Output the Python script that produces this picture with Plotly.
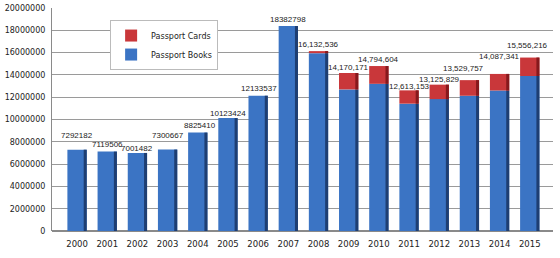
import plotly.graph_objects as go

years = [str(y) for y in range(2000, 2016)]
passport_books = [7292182, 7119506, 7001482, 7300667, 8825410, 10123424, 12133537, 18382798,
                  15950000, 12700000, 13200000, 11420000, 11830000, 12130000, 12600000, 13900000]
passport_cards = [0, 0, 0, 0, 0, 0, 0, 0,
                  182536, 1470171, 1594604, 1193153, 1295829, 1399757, 1487341, 1656216]
total_labels = ["7292182", "7119506", "7001482", "7300667", "8825410", "10123424", "12133537",
                "18382798", "16,132,536", "14,170,171", "14,794,604", "12,613,153",
                "13,125,829", "13,529,757", "14,087,341", "15,556,216"]
y_ticks = list(range(0, 20000001, 2000000))

# label pixel offsets (styling only)
label_dy = [14, 7, 4, 14, 7, 5, 7, 7, 7, 6, 7, 4, 5, 12, 17, 12]
label_dx = [0, 0, 0, 0, 2, 0, 1, 0, 0, 0, 0, 0, 0, -6, 0, -2]

totals = [b + c for b, c in zip(passport_books, passport_cards)]

BLUE = "#3B74C4"
BLUE_D = "#1E3E72"
RED = "#C9373A"
RED_D = "#86191D"
W = 0.64
SW = 0.1

fig = go.Figure()
fig.add_bar(x=years, y=passport_books, base=[0] * len(years), name="Passport Books",
            marker=dict(color=BLUE, line=dict(width=0)), width=W, legendrank=2)
fig.add_bar(x=years, y=passport_books, base=[0] * len(years), showlegend=False,
            marker=dict(color=BLUE_D, line=dict(width=0)), width=SW, offset=W / 2 - SW,
            hoverinfo="skip")
fig.add_bar(x=years, y=passport_cards, base=passport_books, name="Passport Cards",
            marker=dict(color=RED, line=dict(width=0)), width=W, legendrank=1)
fig.add_bar(x=years, y=passport_cards, base=passport_books, showlegend=False,
            marker=dict(color=RED_D, line=dict(width=0)), width=SW, offset=W / 2 - SW,
            hoverinfo="skip")

for i, (t, lab, dy, dx) in enumerate(zip(totals, total_labels, label_dy, label_dx)):
    fig.add_annotation(x=i, y=t, xref="x", yref="y", text=lab, showarrow=False,
                       yshift=dy, xshift=dx,
                       font=dict(family="Liberation Sans", size=8, color="#222222"))

fig.update_layout(
    width=560, height=258,
    margin=dict(l=52, r=7, t=8, b=27),
    barmode="overlay",
    plot_bgcolor="white", paper_bgcolor="white",
    showlegend=True,
    legend=dict(x=0.116, y=0.946, xanchor="left", yanchor="top",
                traceorder="normal",
                bgcolor="white", bordercolor="#BBBBBB", borderwidth=1,
                font=dict(family="DejaVu Sans", size=8, color="#222222"),
                itemwidth=30),
    font=dict(family="Liberation Sans", size=9, color="#222222"),
)
fig.update_xaxes(type="category", range=[-0.83, 15.77], showgrid=False, showline=False,
                 ticks="", ticklabelstandoff=6, automargin=False,
                 tickfont=dict(family="DejaVu Sans", size=8.5, color="#222222"))
fig.update_yaxes(range=[0, 20000000], tickvals=y_ticks, ticktext=[str(v) for v in y_ticks],
                 showgrid=True, gridcolor="#9A9A9A", gridwidth=1,
                 showline=True, linecolor="#8A8A8A", linewidth=1, zeroline=True,
                 zerolinecolor="#8A8A8A", ticks="", ticklabelstandoff=4, automargin=False,
                 tickfont=dict(family="DejaVu Sans", size=8, color="#222222"))

fig.write_html("out.html")
